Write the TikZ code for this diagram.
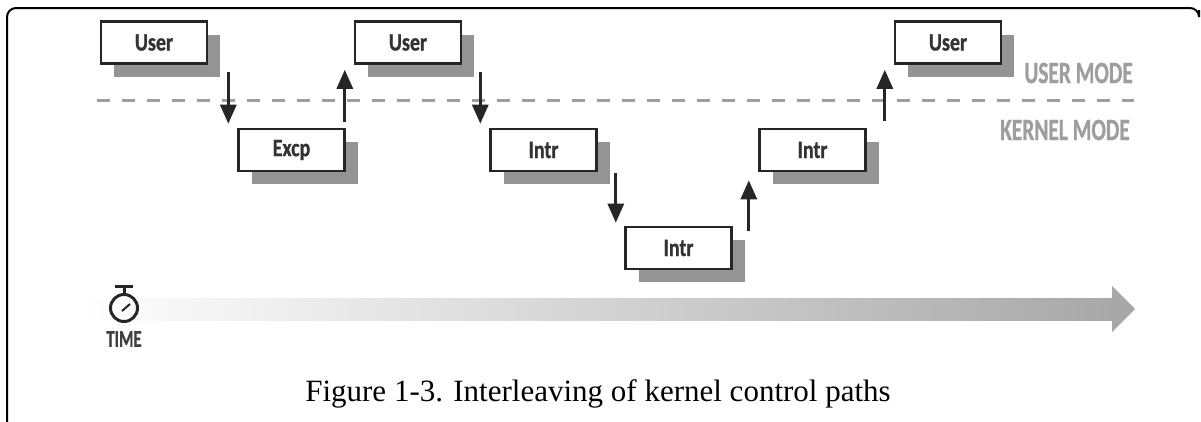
\documentclass[tikz,border=0pt]{standalone}
\usepackage{fontspec}
\setmainfont{Liberation Serif}
\newfontfamily\labelfont[FakeStretch=0.8,BoldFeatures={FakeBold=0.8}]{Carlito}
\newfontfamily\modefont[FakeStretch=0.69,BoldFeatures={FakeBold=0.8}]{Carlito}
\usetikzlibrary{arrows.meta,calc,shadows}
\definecolor{modegray}{gray}{0.62}
\definecolor{shadowgray}{gray}{0.58}
\tikzset{
	modebox/.style={draw=black!85, line width=2.6pt, fill=white, minimum width=106pt, minimum height=42pt, inner sep=0pt,
		font=\labelfont\fontsize{25}{25}\selectfont\bfseries, text=black!80,
		drop shadow={fill=shadowgray, draw=none, opacity=1, shadow xshift=13pt, shadow yshift=-13pt}},
	modetext/.style={font=\modefont\fontsize{31}{31}\selectfont\bfseries, text=modegray, inner sep=0pt},
	flow/.style={draw=black!85, line width=3pt, -{Triangle[length=19pt,width=16pt]}}
}
\begin{document}
\begin{tikzpicture}[x=1pt,y=-1pt]
	\useasboundingbox (0, 0) rectangle (1201, 421);
	%%%%% frame
	\draw[line width=2pt, rounded corners=9pt] (7, 425) -- (7, 8) -- (1199, 8) -- (1199, 10);
	
	%%%%% time arrow
	\fill[left color=white, right color=black!34] (80, 298) rectangle (1112, 320);
	\fill[black!34] (1112, 286) -- (1135, 309) -- (1112, 332) -- cycle;
	
	%%%%% mode line
	\draw[line width=3pt, modegray, dash pattern=on 13pt off 12pt] (97, 100) -- (1134, 100);
	\node[modetext, anchor=east] (usermode) at (1133, 73) {USER MODE};
	\node[modetext, anchor=east] (kernelmode) at (1130, 130) {KERNEL MODE};
	
	%%%%% boxes
	\node[modebox] (user1) at (154, 42.5) {User};
	\node[modebox] (excp) at (291.5, 150) {Excp};
	\node[modebox] (user2) at (408, 42.5) {User};
	\node[modebox] (intr1) at (543.5, 150) {Intr};
	\node[modebox] (intr2) at (678.5, 248) {Intr};
	\node[modebox] (intr3) at (812.5, 150) {Intr};
	\node[modebox] (user3) at (948, 42.5) {User};
	
	%%%%% arrows
	\draw[flow] ($(user1.south east)+(20, 7)$) coordinate (flowa) -- ([yshift=4pt]flowa |- excp.north);
	\draw[flow] ($(excp.north east)+(-1, -6)$) coordinate (flowb) -- ([yshift=-5pt]flowb |- user2.south);
	\draw[flow] ($(user2.south east)+(18, 7)$) coordinate (flowc) -- ([yshift=4pt]flowc |- intr1.north);
	\draw[flow] ($(intr1.south east)+(18, 1)$) coordinate (flowd) -- ([yshift=3pt]flowd |- intr2.north);
	\draw[flow] ($(intr2.north east)+(16, 5)$) coordinate (flowe) -- ([yshift=-8pt]flowe |- intr3.south);
	\draw[flow] ($(intr3.north east)+(18, -7)$) coordinate (flowf) -- ([yshift=-5pt]flowf |- user3.south);
	
	%%%%% stopwatch
	\draw[line width=3pt, black!85] (124, 308) circle (13.5);
	\draw[line width=3pt, black!85] (115, 286) -- (133, 286);
	\draw[line width=3pt, black!85] (124, 286) -- (124, 294);
	\draw[line width=2pt, black!85] (122, 311) -- (130, 304);
	\node[font=\modefont\fontsize{24}{24}\selectfont\bfseries, text=black!75, inner sep=0pt] (timelabel) at (124, 339) {TIME};
	
	%%%%% caption
	\node[font=\fontsize{31}{31}\selectfont, inner sep=0pt] (caption) at (598, 394) {Figure 1-3. Interleaving of kernel control paths};
\end{tikzpicture}
\end{document}
